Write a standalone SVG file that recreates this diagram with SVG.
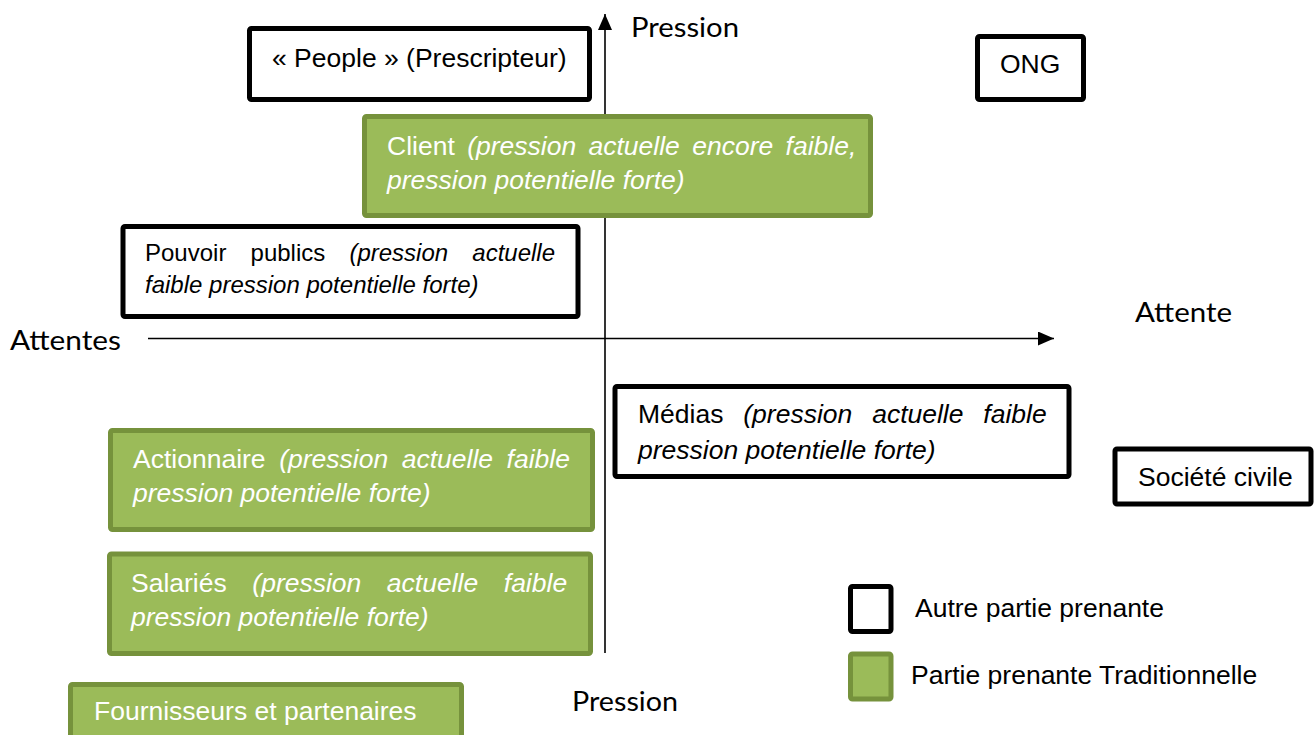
<svg xmlns="http://www.w3.org/2000/svg" width="1314" height="735" viewBox="0 0 1314 735">
<style>
.bx{fill:#fff;stroke:#000;stroke-width:5}
.gr{fill:#9BBB59;stroke:#76923C;stroke-width:5}
.t{font-family:"Liberation Sans",Arial,sans-serif;font-size:26.5px;fill:#000}
.w{fill:#fff}
.i{font-style:italic}
.ax{font-family:Lato,"Open Sans",sans-serif;font-size:27px;fill:#000}
.axl{stroke:#000;stroke-width:1.6;fill:none}
</style>
<defs>
<marker id="arr" viewBox="0 0 16 14" refX="16" refY="7" markerWidth="16" markerHeight="14" orient="auto" markerUnits="userSpaceOnUse"><path d="M0,0 L16,7 L0,14 z" fill="#000"/></marker>
</defs>
<rect width="1314" height="735" fill="#fff"/>
<g id="connectors">
<line class="axl" x1="605" y1="653" x2="605" y2="14" marker-end="url(#arr)"/>
<line class="axl" x1="148" y1="338.5" x2="1054" y2="338.5" marker-end="url(#arr)"/>
</g>
<g id="axis-labels">
<text class="ax" x="631" y="37" textLength="108" lengthAdjust="spacingAndGlyphs">Pression</text>
<text class="ax" x="10" y="350" textLength="111" lengthAdjust="spacingAndGlyphs">Attentes</text>
<text class="ax" x="1135" y="322" textLength="97" lengthAdjust="spacingAndGlyphs">Attente</text>
<text class="ax" x="572" y="711" textLength="106" lengthAdjust="spacingAndGlyphs">Pression</text>
</g>
<g id="people">
<rect class="bx" x="249.5" y="28.5" width="340" height="71" rx="2"/>
<text class="t" x="272" y="67">« People » (Prescripteur)</text>
</g>
<g id="ong">
<rect class="bx" x="977.5" y="36.5" width="106" height="63" rx="2"/>
<text class="t" x="1000" y="73">ONG</text>
</g>
<g id="client">
<rect class="gr" x="364.5" y="116.5" width="506" height="99" rx="2"/>
<text class="t w" x="387" y="155" word-spacing="5">Client <tspan class="i">(pression actuelle encore faible,</tspan></text>
<text class="t w i" x="387" y="189">pression potentielle forte)</text>
</g>
<g id="pouvoir">
<rect class="bx" x="123" y="226.5" width="455" height="90" rx="2"/>
<text class="t" style="font-size:24px" x="145" y="261" word-spacing="17.5">Pouvoir publics <tspan class="i">(pression actuelle</tspan></text>
<text class="t i" style="font-size:24px" x="145" y="293">faible pression potentielle forte)</text>
</g>
<g id="medias">
<rect class="bx" x="615" y="386.5" width="454" height="90" rx="2"/>
<text class="t" x="638" y="423" word-spacing="12.5">Médias <tspan class="i">(pression actuelle faible</tspan></text>
<text class="t i" x="638" y="459">pression potentielle forte)</text>
</g>
<g id="societe-civile">
<rect class="bx" x="1115" y="449" width="196" height="55" rx="2"/>
<text class="t" x="1138" y="486">Société civile</text>
</g>
<g id="actionnaire">
<rect class="gr" x="110.5" y="430.5" width="482" height="99" rx="2"/>
<text class="t w" x="133" y="468" word-spacing="6.2">Actionnaire <tspan class="i">(pression actuelle faible</tspan></text>
<text class="t w i" x="133" y="502">pression potentielle forte)</text>
</g>
<g id="salaries">
<rect class="gr" x="109.5" y="554" width="481" height="99.5" rx="2"/>
<text class="t w" x="131" y="592" word-spacing="18.2">Salariés <tspan class="i">(pression actuelle faible</tspan></text>
<text class="t w i" x="131" y="626">pression potentielle forte)</text>
</g>
<g id="fournisseurs">
<rect class="gr" x="70.5" y="684.5" width="391" height="70" rx="2"/>
<text class="t w" x="94" y="720">Fournisseurs et partenaires</text>
</g>
<g id="legend">
<rect class="bx" x="850.5" y="586.5" width="40.5" height="45" rx="2"/>
<text class="t" x="915" y="617">Autre partie prenante</text>
<rect class="gr" x="850.5" y="654" width="40.5" height="45" rx="2"/>
<text class="t" x="911" y="684">Partie prenante Traditionnelle</text>
</g>
</svg>
